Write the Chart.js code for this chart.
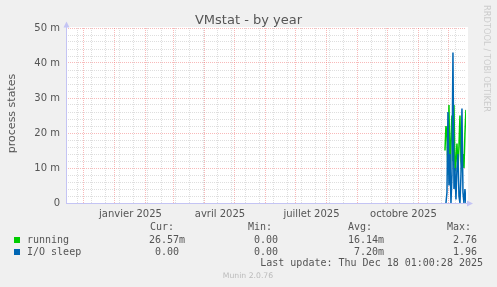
<!DOCTYPE html>
<html><head><meta charset="utf-8">
<script src="https://cdn.jsdelivr.net/npm/chart.js@4/dist/chart.umd.min.js"></script>
<style>html,body{margin:0;padding:0;background:#f0f0f0;overflow:hidden}#wrap{width:497px;height:287px;position:relative}</style>
</head><body><div id="wrap"><canvas id="c" width="497" height="287"></canvas></div>
<script>
// ---- data ----
const chartTitle = 'VMstat - by year';
const yAxisTitle = 'process states';
const seriesNames = ['running', 'I/O sleep'];
const seriesColors = ['#00cc00', '#0066b3'];
// values in milli ("m") units
const runningDates = ['2025-11-27','2025-11-28','2025-11-29','2025-11-30','2025-12-01','2025-12-02','2025-12-03','2025-12-04','2025-12-05','2025-12-06','2025-12-07','2025-12-08','2025-12-09','2025-12-10','2025-12-11','2025-12-12','2025-12-13','2025-12-14','2025-12-15','2025-12-16','2025-12-17','2025-12-18'];
const runningValues = [15, 22, 20, 8, 28, 7, 18, 25, 12, 28, 9, 12, 17, 10, 16, 25, 12, 10, 14, 10, 20, 26.6];
const ioSleepDates = ['2025-11-28','2025-11-29','2025-11-30','2025-12-01','2025-12-02','2025-12-03','2025-12-04','2025-12-05','2025-12-06','2025-12-07','2025-12-08','2025-12-09','2025-12-10','2025-12-11','2025-12-12','2025-12-13','2025-12-14','2025-12-15','2025-12-16','2025-12-17','2025-12-18'];
const ioSleepValues = [0, 3, 26, 5, 14, 0, 8, 43, 4, 10, 1, 10, 14, 2, 0, 8, 27, 3, 0, 4, 0];
const rangeStart = '2024-11-13T01:00:28Z';
const rangeEnd = '2025-12-18T01:00:28Z';
const xLabelMonths = ['2025-01-01','2025-04-01','2025-07-01','2025-10-01'];
const xLabelTexts = ['janvier 2025','avril 2025','juillet 2025','octobre 2025'];
const majorMonthStarts = ['2024-12-01','2025-01-01','2025-02-01','2025-03-01','2025-04-01','2025-05-01','2025-06-01','2025-07-01','2025-08-01','2025-09-01','2025-10-01','2025-11-01','2025-12-01'];
const minorGridFirst = '2024-11-25';
const minorGridStepDays = 14;
const yMax = 50;
const yMinorStep = 2;
const yMajorStep = 10;
const yTickValues = [0, 10, 20, 30, 40, 50];
const yTickLabels = ['0', '10 m', '20 m', '30 m', '40 m', '50 m'];
const legendHeaders = ['Cur:', 'Min:', 'Avg:', 'Max:'];
const runningStats = ['26.57m', '0.00', '16.14m', '2.76'];
const ioSleepStats = ['0.00', '0.00', '7.20m', '1.96'];
const lastUpdate = 'Last update: Thu Dec 18 01:00:28 2025';
const footer = 'Munin 2.0.76';
const sideText = 'RRDTOOL / TOBI OETIKER';

// ---- helpers ----
const toDay = s => Date.parse(s.length === 10 ? s + 'T00:00:00Z' : s) / 86400000;
const xMin = toDay(rangeStart), xMax = toDay(rangeEnd);
const tickKind = new Map();
const tickText = new Map();
majorMonthStarts.forEach(d => tickKind.set(toDay(d), 'major'));
for (let v = toDay(minorGridFirst); v <= xMax; v += minorGridStepDays) {
  if (!tickKind.has(v)) tickKind.set(v, 'minor');
}
xLabelMonths.forEach((d, i) => {
  const start = toDay(d);
  const dt = new Date(start * 86400000);
  const next = Date.UTC(dt.getUTCFullYear(), dt.getUTCMonth() + 1, 1) / 86400000;
  const mid = (start + next) / 2;
  tickKind.set(mid, 'label');
  tickText.set(mid, xLabelTexts[i]);
});
const xTickValues = Array.from(tickKind.keys()).sort((a, b) => a - b);

const MAJOR = 'rgba(240,100,100,0.45)';
const MINOR = 'rgba(160,160,160,0.35)';
const AXIS = '#c4c4f4';
const TXT = '#555555';

const decor = {
  id: 'decor',
  beforeDraw(chart) {
    const c = chart.ctx, a = chart.chartArea;
    c.save();
    c.fillStyle = '#f0f0f0';
    c.fillRect(0, 0, chart.width, chart.height);
    c.fillStyle = '#ffffff';
    c.fillRect(a.left, a.top - 1, a.right - a.left + 2, a.bottom - a.top + 1);
    c.restore();
  },
  afterDraw(chart) {
    const c = chart.ctx, a = chart.chartArea;
    c.save();
    // axes with arrows
    c.strokeStyle = AXIS; c.fillStyle = AXIS; c.lineWidth = 1;
    c.beginPath();
    c.moveTo(a.left + 0.5, a.bottom + 0.5); c.lineTo(a.left + 0.5, a.top - 4);
    c.moveTo(a.left, a.bottom + 0.5); c.lineTo(a.right + 3, a.bottom + 0.5);
    c.stroke();
    c.beginPath();
    c.moveTo(a.left + 0.5, a.top - 6.5); c.lineTo(a.left - 2.5, a.top - 0.5); c.lineTo(a.left + 3.5, a.top - 0.5); c.closePath(); c.fill();
    c.beginPath();
    c.moveTo(a.right + 7, a.bottom + 0.5); c.lineTo(a.right + 1, a.bottom - 2.5); c.lineTo(a.right + 1, a.bottom + 3.5); c.closePath(); c.fill();
    // title
    c.fillStyle = TXT;
    c.font = '13px "DejaVu Sans"';
    c.textAlign = 'center'; c.textBaseline = 'alphabetic';
    c.fillText(chartTitle, chart.width / 2, 24);
    // y axis title
    c.save();
    c.translate(12, (a.top + a.bottom) / 2 - 2);
    c.rotate(-Math.PI / 2);
    c.font = '11px "DejaVu Sans"';
    c.textAlign = 'center'; c.textBaseline = 'middle';
    c.fillText(yAxisTitle, 0, 0);
    c.restore();
    // side text
    c.save();
    c.translate(486.5, 58.5);
    c.rotate(Math.PI / 2);
    c.font = '8.3px "DejaVu Sans"';
    c.fillStyle = '#cccccc';
    c.textAlign = 'center'; c.textBaseline = 'middle';
    c.fillText(sideText, 0, 0);
    c.restore();
    // legend
    c.font = '10px "DejaVu Sans Mono"';
    c.textBaseline = 'middle';
    c.fillStyle = TXT;
    const hx = [150, 248, 348, 447];
    c.textAlign = 'left';
    legendHeaders.forEach((h, i) => c.fillText(h, hx[i], 227));
    const colEnd = [185, 284, 384, 483];
    const rows = [[runningStats, 240], [ioSleepStats, 252]];
    rows.forEach(([stats, y], r) => {
      c.fillStyle = seriesColors[r];
      c.fillRect(14, y - 3, 6, 6);
      c.fillStyle = TXT;
      c.textAlign = 'left';
      c.fillText(seriesNames[r], 27, y);
      c.textAlign = 'right';
      stats.forEach((s, i) => {
        const t = /[a-zA-Z]$/.test(s) ? s : s + ' ';
        c.fillText(t, colEnd[i], y);
      });
    });
    c.textAlign = 'right';
    c.fillText(lastUpdate, 483, 263.5);
    c.font = '7.7px "DejaVu Sans"';
    c.fillStyle = '#bbbbbb';
    c.textAlign = 'center';
    c.fillText(footer, 248, 276);
    c.restore();
  }
};

new Chart(document.getElementById('c'), {
  type: 'line',
  data: {
    datasets: [
      {
        label: seriesNames[0],
        data: runningDates.map((d, i) => ({ x: toDay(d), y: runningValues[i] })),
        borderColor: seriesColors[0], backgroundColor: seriesColors[0],
        borderWidth: 1.5, pointRadius: 0, tension: 0, fill: false, order: 2
      },
      {
        label: seriesNames[1],
        data: ioSleepDates.map((d, i) => ({ x: toDay(d), y: ioSleepValues[i] })),
        borderColor: seriesColors[1], backgroundColor: seriesColors[1],
        borderWidth: 1.5, pointRadius: 0, tension: 0, fill: false, order: 1
      }
    ]
  },
  options: {
    responsive: false,
    animation: false,
    devicePixelRatio: 1,
    layout: { padding: { top: 28, right: 31, bottom: 0, left: 0 } },
    plugins: { legend: { display: false }, title: { display: false }, tooltip: { enabled: false } },
    scales: {
      x: {
        type: 'linear', min: xMin, max: xMax, offset: false,
        afterBuildTicks: s => { s.ticks = xTickValues.map(v => ({ value: v })); },
        afterFit: s => { s.height = 84; s.paddingLeft = 0; s.paddingRight = 0; },
        ticks: {
          autoSkip: false, maxRotation: 0, minRotation: 0, padding: 5,
          color: TXT, font: { family: 'DejaVu Sans', size: 10 },
          callback: v => tickText.get(v) || ''
        },
        grid: {
          drawTicks: false, lineWidth: 1,
          color: ctx => {
            const k = ctx.tick ? tickKind.get(ctx.tick.value) : null;
            return k === 'major' ? MAJOR : (k === 'minor' ? MINOR : 'rgba(0,0,0,0)');
          }
        },
        border: { display: false, dash: [1, 1] }
      },
      y: {
        min: 0, max: yMax,
        afterBuildTicks: s => {
          const t = [];
          for (let v = 0; v <= yMax; v += yMinorStep) t.push({ value: v });
          s.ticks = t;
        },
        afterFit: s => { s.width = 66; s.paddingTop = 0; s.paddingBottom = 0; },
        ticks: {
          autoSkip: false, padding: 6,
          color: TXT, font: { family: 'DejaVu Sans', size: 10 },
          callback: v => { const i = yTickValues.indexOf(v); return i >= 0 ? yTickLabels[i] : ''; }
        },
        grid: {
          drawTicks: false, lineWidth: 1,
          color: ctx => (ctx.tick && ctx.tick.value % yMajorStep === 0) ? MAJOR : MINOR
        },
        border: { display: false, dash: [1, 1] }
      }
    }
  },
  plugins: [decor]
});
</script>
</body></html>
